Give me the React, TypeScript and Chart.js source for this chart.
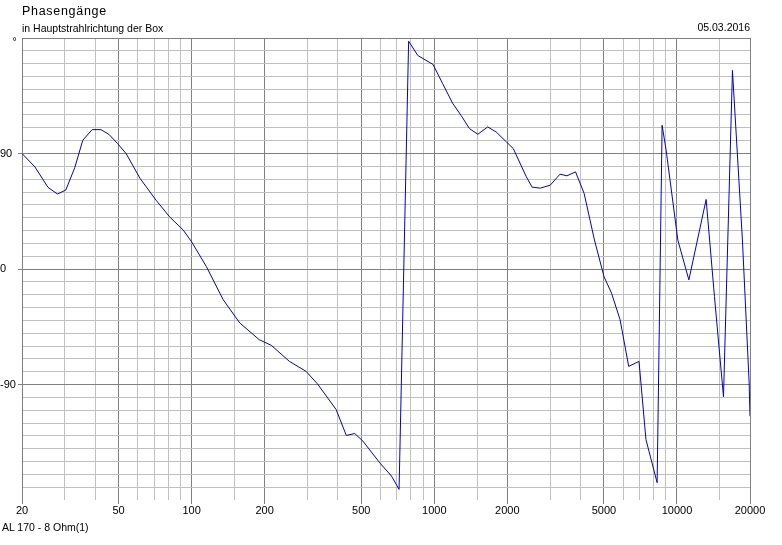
import React, { useEffect, useRef } from "react";
import { Chart, registerables } from "chart.js";

Chart.register(...registerables);

// ---- data ----
const FREQUENCIES: number[] = [
  20, 22.6, 25.6, 28.0, 30.3, 33.0, 35.6, 38.9, 42.3, 45.7, 49.5, 53.7, 61.3, 71.3, 81.1, 92.3, 99.9,
  115, 135, 158, 190, 213, 253, 296, 330, 394, 434, 470, 508, 596, 666, 716,
  784, 855, 988, 1083, 1189, 1288, 1396, 1512, 1660, 1799, 1983, 2115, 2396, 2530, 2735, 3005,
  3298, 3521, 3820, 4144, 4571, 5004, 5375, 5832, 6326, 6977, 7450, 8286,
  8687, 9024, 10084, 11198, 13190, 14274, 15553, 16933, 18612, 19840, 20000,
];
const PHASE: number[] = [
  90, 79.6, 63.6, 58.4, 61.5, 79, 100.3, 108.6, 108.6, 104.8, 97.8, 90, 70.6, 53.7, 40.7, 30.4, 21.3,
  1.9, -24, -42.1, -55.1, -59.5, -72, -79.7, -89.5, -109.5, -129.7, -128.2, -134.1, -151, -161.3, -171.7,
  177.5, 166.4, 159.4, 144.4, 129.3, 119.8, 109.4, 105, 110.7, 106.8, 99, 93.9, 71.8, 63.8, 63, 65.3,
  73.9, 72.6, 75.7, 58.9, 22.6, -5.9, -18.8, -39.6, -75.9, -72, -132.8, -166.5,
  112, 92.6, 22.6, -8.5, 54.2, -21.4, -99.6, 154.7, 22.6, -88.8, -114.7,
];

const X_GRID_VALUES: number[] = [
  20, 30, 40, 50, 60, 70, 80, 90, 100, 150, 200, 300, 400, 500, 600, 700, 800, 900,
  1000, 1500, 2000, 3000, 4000, 5000, 6000, 7000, 8000, 9000, 10000, 15000, 20000,
];
const X_LABELED: number[] = [20, 50, 100, 200, 500, 1000, 2000, 5000, 10000, 20000];

const Y_MIN = -180;
const Y_MAX = 180;
const Y_STEP = 10;
const Y_MAJOR: number[] = [180, 90, 0, -90];
const Y_LABELED: number[] = [90, 0, -90];
const Y_LABEL_TEXT: string[] = ["90", "0", "-90"];
const Y_UNIT = "°";

const TITLE = "Phasengänge";
const SUBTITLE = "in Hauptstrahlrichtung der Box";
const DATE = "05.03.2016";
const FOOTER = "AL 170 - 8 Ohm(1)";

// ---- styles ----
const LINE_COLOR = "#0000c8";
const DARK = "#808080";
const LIGHT = "#c0c0c0";
const FONT = "'Liberation Sans', Arial, sans-serif";

export default function App() {
  const ref = useRef<HTMLCanvasElement>(null);

  useEffect(() => {
    document.body.style.margin = "0";
    const canvas = ref.current;
    if (!canvas) return;

    const yTicks: number[] = [];
    for (let v = Y_MIN; v <= Y_MAX; v += Y_STEP) yTicks.push(v);

    const chart = new Chart(canvas, {
      type: "line",
      data: {
        datasets: [
          {
            data: FREQUENCIES.map((f, i) => ({ x: f, y: PHASE[i] })),
            borderColor: LINE_COLOR,
            borderWidth: 1,
            pointRadius: 0,
            tension: 0,
            fill: false,
          },
        ],
      },
      options: {
        animation: false,
        responsive: false,
        devicePixelRatio: 1,
        layout: { padding: { top: 38, right: 32, left: 0, bottom: 0 } },
        plugins: {
          legend: { display: false },
          tooltip: { enabled: false },
          title: { display: false },
        },
        scales: {
          x: {
            type: "logarithmic",
            min: 20,
            max: 20000,
            afterBuildTicks: (s: any) => {
              s.ticks = X_GRID_VALUES.map((v) => ({ value: v }));
            },
            afterFit: (s: any) => {
              s.height = 45;
            },
            border: { display: false },
            grid: {
              color: (ctx: any) => (X_LABELED.includes(ctx.tick?.value) ? DARK : LIGHT),
              tickColor: (ctx: any) =>
                X_LABELED.includes(ctx.tick?.value) ? DARK : "rgba(0,0,0,0)",
              tickLength: 4,
              lineWidth: 1,
            },
            ticks: {
              autoSkip: false,
              maxRotation: 0,
              minRotation: 0,
              padding: 0,
              color: "#000",
              font: { family: FONT, size: 11 },
              callback: (v: any) => (X_LABELED.includes(Number(v)) ? String(v) : ""),
            },
          },
          y: {
            type: "linear",
            min: Y_MIN,
            max: Y_MAX,
            afterBuildTicks: (s: any) => {
              s.ticks = yTicks.map((v) => ({ value: v }));
            },
            afterFit: (s: any) => {
              s.width = 22;
            },
            border: { display: true, color: DARK, width: 1 },
            grid: {
              color: (ctx: any) => {
                const v = ctx.tick?.value;
                if (v === Y_MIN) return "rgba(0,0,0,0)";
                return Y_MAJOR.includes(v) ? DARK : LIGHT;
              },
              tickColor: (ctx: any) =>
                Y_LABELED.includes(ctx.tick?.value) ? DARK : "rgba(0,0,0,0)",
              tickLength: 4,
              lineWidth: 1,
            },
            ticks: {
              autoSkip: false,
              crossAlign: "far",
              padding: 4,
              color: "#000",
              font: { family: FONT, size: 11 },
              callback: (v: any) => {
                const idx = Y_LABELED.indexOf(Number(v));
                return idx >= 0 ? Y_LABEL_TEXT[idx] : "";
              },
            },
          },
        },
      },
    } as any);

    return () => chart.destroy();
  }, []);

  const textBase: React.CSSProperties = {
    position: "absolute",
    whiteSpace: "nowrap",
    fontFamily: FONT,
    color: "#000",
  };

  return (
    <div style={{ position: "relative", width: 782, height: 545, background: "#fff" }}>
      <canvas ref={ref} width={782} height={545} style={{ width: 782, height: 545, display: "block" }} />
      <div style={{ ...textBase, left: 22, top: 4.6, fontSize: 12.5, lineHeight: "12.5px", letterSpacing: "0.7px" }}>
        {TITLE}
      </div>
      <div style={{ ...textBase, left: 22, top: 22.6, fontSize: 10.5, lineHeight: "10.5px" }}>{SUBTITLE}</div>
      <div style={{ ...textBase, right: 32, top: 21.8, fontSize: 10.5, lineHeight: "10.5px" }}>{DATE}</div>
      <div style={{ ...textBase, left: 12.5, top: 35.6, fontSize: 10.5, lineHeight: "10.5px" }}>{Y_UNIT}</div>
      <div style={{ ...textBase, left: 2, top: 521.8, fontSize: 10.5, lineHeight: "10.5px" }}>{FOOTER}</div>
    </div>
  );
}
